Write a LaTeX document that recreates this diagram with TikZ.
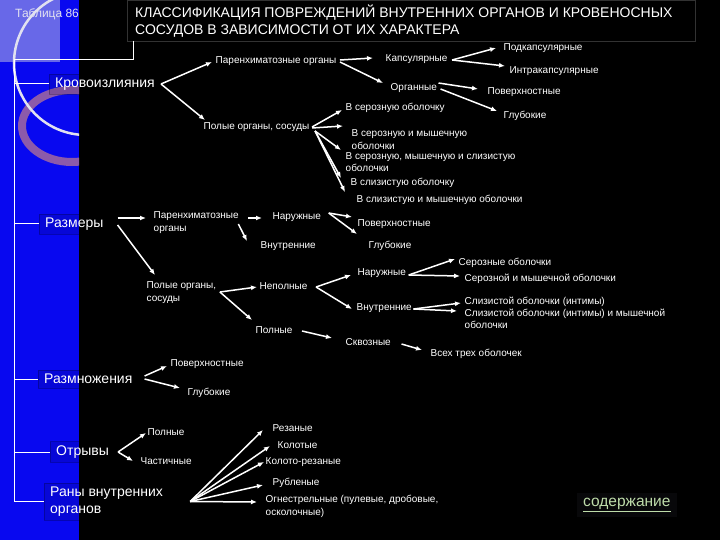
\documentclass[tikz,border=0pt]{standalone}
\usepackage{fontspec}
\setmainfont{Liberation Sans}
\usetikzlibrary{arrows.meta,calc}
\definecolor{panelblue}{RGB}{8,8,240}
\definecolor{lightsq}{RGB}{104,104,232}
\definecolor{ringcol}{RGB}{140,90,170}
\definecolor{arccol}{RGB}{225,225,240}
\definecolor{titleframe}{RGB}{50,50,50}
\definecolor{linkgreen}{RGB}{190,220,170}
\begin{document}
\begin{tikzpicture}[x=1pt,y=-1pt,
  lbl/.style={text=white,font=\fontsize{10}{12.5}\selectfont,inner sep=0.5pt,anchor=west,align=left},
  cat/.style={text=white,font=\fontsize{14}{17}\selectfont,inner xsep=6pt,inner ysep=4pt,anchor=west,align=left,
     fill=black,fill opacity=0.1,text opacity=1,draw=black,draw opacity=0.25},
  arr/.style={draw=white,line width=1.5pt,-{Latex[length=6pt,width=5pt]}},
  brk/.style={draw=white,line width=1pt}]
\fill[black] (0,0) rectangle (720,540);
\useasboundingbox (0,0) rectangle (720,540);
% left panel
\fill[panelblue] (0,0) rectangle (79,540);
\fill[lightsq] (0,0) rectangle (60,62);
\begin{scope}
  \clip (0,0) rectangle (79,540);
  \draw[ringcol,line width=8pt] (72,126) ellipse [x radius=50, y radius=36];
  \draw[arccol,line width=2.5pt] (86,63) circle [radius=72];
\end{scope}
% title
\draw[titleframe,fill=black] (127,0) rectangle (695,41);
\node[text=white,font=\fontsize{14}{16.5}\selectfont,anchor=west,align=left,inner sep=0pt] (title) at (135,21)
  {КЛАССИФИКАЦИЯ ПОВРЕЖДЕНИЙ ВНУТРЕННИХ ОРГАНОВ И КРОВЕНОСНЫХ\\СОСУДОВ В ЗАВИСИМОСТИ ОТ ИХ ХАРАКТЕРА};
\node[text=arccol,font=\fontsize{12}{14}\selectfont,anchor=west,inner sep=0pt] (tab) at (15,14) {Таблица 86};
% categories
\node[cat] (kr) at (49,84) {Кровоизлияния};
\node[cat] (rz) at (39,224) {Размеры};
\node[cat] (rm) at (38,379) {Размножения};
\node[cat] (ot) at (50,452) {Отрывы};
\node[cat] (ra) at (44,501.5) {Раны внутренних\\органов};
% bracket
\coordinate (top) at (133,41);
\coordinate (sp) at (14,60);
\draw[brk] (top) -- (top |- sp) -- (sp) -- (sp |- ra.west) -- (ra.west);
\draw[brk] (sp |- kr.west) -- (kr.west);
\draw[brk] (sp |- rz.west) -- (rz.west);
\draw[brk] (sp |- rm.west) -- (rm.west);
\draw[brk] (sp |- ot.west) -- (ot.west);
% haemorrhages
\node[lbl] (po1) at (215,61) {Паренхиматозные органы};
\node[lbl] (po2) at (203,127) {Полые органы, сосуды};
\node[lbl] (kap) at (385,59) {Капсулярные};
\node[lbl] (org) at (390,88) {Органные};
\node[lbl] (podk) at (503,48) {Подкапсулярные};
\node[lbl] (intr) at (509,71) {Интракапсулярные};
\node[lbl] (pov1) at (487,92) {Поверхностные};
\node[lbl] (glub1) at (503,116) {Глубокие};
\node[lbl] (s1) at (345,108) {В серозную оболочку};
\node[lbl] (s2) at (351,139.5) {В серозную и мышечную\\оболочки};
\node[lbl] (s3) at (345,162) {В серозную, мышечную и слизистую\\оболочки};
\node[lbl] (s4) at (350,183) {В слизистую оболочку};
\node[lbl] (s5) at (356,200) {В слизистую и мышечную оболочки};
\draw[arr] (kr.east) -- ($(po1.west)+(-3,1)$);
\draw[arr] (kr.east) -- ($(po2.west)+(2,-7)$);
\draw[arr] ($(po1.east)+(3,-1)$) -- ($(kap.west)+(-12,-1)$);
\draw[arr] ($(po1.east)+(3,1)$) -- ($(org.west)+(-7,-5)$);
\draw[arr] ($(kap.east)+(4,1)$) -- ($(podk.west)+(-7,0)$);
\draw[arr] ($(kap.east)+(4,1)$) -- ($(intr.west)+(-4,-5)$);
\draw[arr] ($(org.east)+(1,-5)$) -- ($(pov1.west)+(-9,-3)$);
\draw[arr] ($(org.east)+(3,1)$) -- ($(glub1.west)+(-6,-5)$);
\draw[arr] ($(po2.east)+(2,0)$) -- ($(s1.west)+(-3,2)$);
\draw[arr] ($(po2.east)+(2,1)$) -- ($(s2.west)+(-8,-13.5)$);
\draw[arr] ($(po2.east)+(5,4)$) -- ($(s3.west)+(-4,-12)$);
\draw[arr] ($(po2.east)+(5,4)$) -- ($(s4.west)+(-9,-5)$);
\draw[arr] ($(po2.east)+(5,4)$) -- ($(s5.west)+(-11,-8)$);
% sizes
\node[lbl] (rpo) at (153,222.5) {Паренхиматозные\\органы};
\node[lbl] (rnar) at (272,217) {Наружные};
\node[lbl] (rvn) at (260,246) {Внутренние};
\node[lbl] (rpov) at (357,224) {Поверхностные};
\node[lbl] (rglub) at (368,246) {Глубокие};
\node[lbl] (rpol) at (146,292.5) {Полые органы,\\сосуды};
\node[lbl] (nep) at (259,286) {Неполные};
\node[lbl] (pln) at (255,330) {Полные};
\node[lbl] (nar2) at (357,273) {Наружные};
\node[lbl] (vn2) at (356,308) {Внутренние};
\node[lbl] (ser1) at (458,263) {Серозные оболочки};
\node[lbl] (ser2) at (464,279) {Серозной и мышечной оболочки};
\node[lbl] (sl1) at (464,302) {Слизистой оболочки (интимы)};
\node[lbl] (sl2) at (464,319) {Слизистой оболочки (интимы) и мышечной\\оболочки};
\node[lbl] (skv) at (345,342) {Сквозные};
\node[lbl] (vseh) at (430,354) {Всех трех оболочек};
\draw[arr] ($(rz.east)+(8,-6)$) -- ($(rpo.west)+(-7,-4.5)$);
\draw[arr] ($(rz.east)+(8,1)$) -- ($(rpol.west)+(9,-17.5)$);
\draw[arr] ($(rpo.east)+(9,-4.5)$) -- ($(rnar.west)+(-10,1)$);
\draw[arr] ($(rpo.east)+(-1,1.5)$) -- ($(rvn.west)+(-13,-5)$);
\draw[arr] ($(rnar.east)+(7,-4)$) -- ($(rpov.west)+(-5,-7)$);
\draw[arr] ($(rnar.east)+(7,-4)$) -- ($(rglub.west)+(-11,-12)$);
\draw[arr] ($(rpol.east)+(3,-0.5)$) -- ($(nep.west)+(-2,1)$);
\draw[arr] ($(rpol.east)+(3,-0.5)$) -- ($(pln.west)+(-3,-10)$);
\draw[arr] ($(nep.east)+(8,1)$) -- ($(nar2.west)+(-6,2)$);
\draw[arr] ($(nep.east)+(8,1)$) -- ($(vn2.west)+(-4,1)$);
\draw[arr] ($(nar2.east)+(2,2)$) -- ($(ser1.west)+(-3,-4)$);
\draw[arr] ($(nar2.east)+(2,2)$) -- ($(ser2.west)+(-4,-3)$);
\draw[arr] ($(vn2.east)+(1,1)$) -- ($(sl1.west)+(-3,1)$);
\draw[arr] ($(vn2.east)+(1,1)$) -- ($(sl2.west)+(-7,-8)$);
\draw[arr] ($(pln.east)+(9,1)$) -- ($(skv.west)+(-13,-4)$);
\draw[arr] ($(skv.east)+(10,2)$) -- ($(vseh.west)+(-8,-4)$);
% multiplication
\node[lbl] (rmp) at (170,364) {Поверхностные};
\node[lbl] (rmg) at (187,393) {Глубокие};
\draw[arr] ($(rm.east)+(6,-3)$) -- ($(rmp.west)+(-3,2)$);
\draw[arr] ($(rm.east)+(6,0)$) -- ($(rmg.west)+(-7,-5)$);
% ruptures
\node[lbl] (otp) at (147,432) {Полные};
\node[lbl] (otc) at (140,461) {Частичные};
\draw[arr] ($(ot.east)+(3,0)$) -- ($(otp.west)+(-1,1)$);
\draw[arr] ($(ot.east)+(3,0)$) -- ($(otc.west)+(-7,0)$);
% wounds
\node[lbl] (w1) at (272,428) {Резаные};
\node[lbl] (w2) at (277,445) {Колотые};
\node[lbl] (w3) at (265,462) {Колото-резаные};
\node[lbl] (w4) at (272,483) {Рубленые};
\node[lbl] (w5) at (265,506.5) {Огнестрельные (пулевые, дробовые,\\осколочные)};
\coordinate (hub) at ($(ra.east)+(21,0)$);
\draw[arr] (hub) -- ($(w1.west)+(-9,2)$);
\draw[arr] (hub) -- ($(w2.west)+(-7,1)$);
\draw[arr] (hub) -- ($(w3.west)+(-1,0)$);
\draw[arr] (hub) -- ($(w4.west)+(-9,2)$);
\draw[arr] (hub) -- ($(w5.west)+(-8,-4.5)$);
% link
\node[text=linkgreen,font=\fontsize{15.5}{18}\selectfont,anchor=west,inner xsep=6pt,inner ysep=5pt,
  fill={rgb,255:red,8;green,8;blue,10}] (link) at (577,505) {\underline{содержание}};
\end{tikzpicture}
\end{document}
